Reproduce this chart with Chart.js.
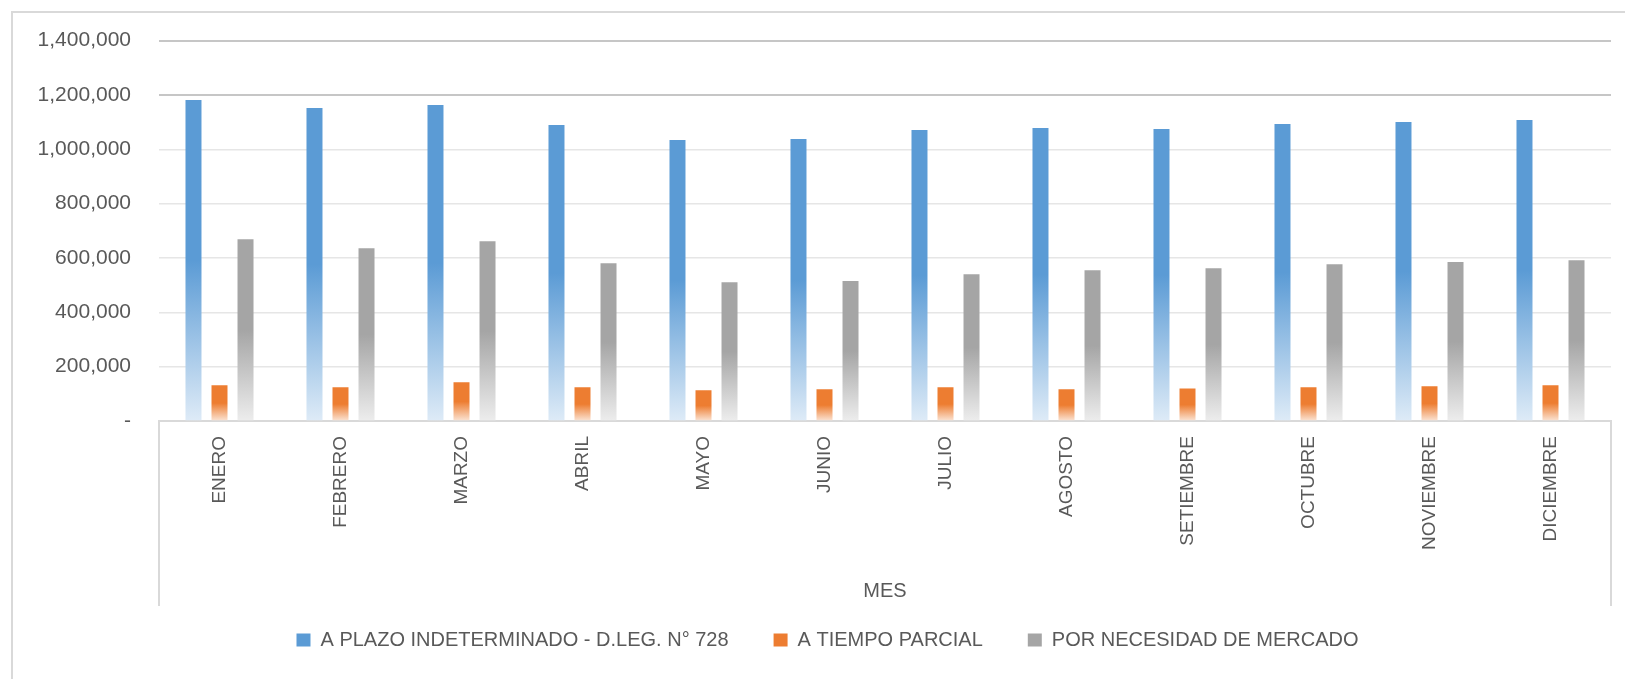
<!DOCTYPE html>
<html>
<head>
<meta charset="utf-8">
<script src="https://cdn.jsdelivr.net/npm/chart.js@4.4.1/dist/chart.umd.min.js"></script>
<style>
  html, body { margin: 0; padding: 0; background: #fff; }
  #wrap { width: 1625px; height: 679px; position: relative; }
</style>
</head>
<body>
<div id="wrap"><canvas id="mesChart"></canvas></div>
<script>
const months = ['ENERO', 'FEBRERO', 'MARZO', 'ABRIL', 'MAYO', 'JUNIO', 'JULIO', 'AGOSTO', 'SETIEMBRE', 'OCTUBRE', 'NOVIEMBRE', 'DICIEMBRE'];
const seriesNames = ['A PLAZO INDETERMINADO - D.LEG. N° 728', 'A TIEMPO PARCIAL', 'POR NECESIDAD DE MERCADO'];
const plazoIndeterminado = [1181000, 1152000, 1163000, 1089000, 1034000, 1038000, 1071000, 1078000, 1075000, 1093000, 1100000, 1108000];
const tiempoParcial = [131500, 124000, 142500, 124000, 113000, 117000, 124000, 117000, 120000, 124000, 128000, 131500];
const necesidadMercado = [669000, 636000, 662000, 581000, 511000, 515000, 540500, 555000, 562500, 577000, 585000, 592000];
const yTicks = [0, 200000, 400000, 600000, 800000, 1000000, 1200000, 1400000];

const FONT = "'Liberation Sans', Arial, sans-serif";
const TEXT = '#595959';

// solid on the upper half of each bar, fading out towards the base
function barFill(solid, light) {
  return function (c) {
    const chart = c.chart;
    const y = chart.scales && chart.scales.y;
    if (c.type !== 'data' || !y || !chart.chartArea) return solid;
    const top = y.getPixelForValue(c.raw);
    const base = y.getPixelForValue(0);
    if (!isFinite(top) || !isFinite(base) || base - top < 1) return solid;
    const g = chart.ctx.createLinearGradient(0, top, 0, base);
    g.addColorStop(0, solid);
    g.addColorStop(0.5, solid);
    g.addColorStop(1, light);
    return g;
  };
}

const solidColors = ['#5B9BD5', '#ED7D31', '#A5A5A5'];

const frame = {
  id: 'frame',
  afterLayout(chart) {
    // legend sits a little right of the canvas centre
    chart.legend.left += 44;
  },
  beforeDraw(chart) {
    const ctx = chart.ctx;
    const x = chart.scales.x;
    ctx.save();
    ctx.strokeStyle = '#D9D9D9';
    ctx.lineWidth = 2;
    ctx.strokeRect(12, 12, chart.width, chart.height);
    ctx.beginPath();
    ctx.moveTo(x.left, x.top);
    ctx.lineTo(x.left, x.bottom + 21);
    ctx.moveTo(x.right, x.top);
    ctx.lineTo(x.right, x.bottom + 21);
    ctx.stroke();
    ctx.restore();
  }
};

new Chart(document.getElementById('mesChart'), {
  type: 'bar',
  data: {
    labels: months,
    datasets: [
      { label: seriesNames[0], data: plazoIndeterminado, backgroundColor: barFill('#5B9BD5', '#DEEBF7') },
      { label: seriesNames[1], data: tiempoParcial, backgroundColor: barFill('#ED7D31', '#FBE5D6') },
      { label: seriesNames[2], data: necesidadMercado, backgroundColor: barFill('#A5A5A5', '#EDEDED') }
    ]
  },
  options: {
    responsive: true,
    maintainAspectRatio: false,
    animation: false,
    datasets: { bar: { categoryPercentage: 0.645, barPercentage: 0.615, borderWidth: 0 } },
    layout: { padding: { left: 0, right: 14, top: 40, bottom: 19 } },
    plugins: {
      tooltip: { enabled: false },
      legend: {
        position: 'bottom',
        labels: {
          boxWidth: 14,
          boxHeight: 13,
          padding: 45,
          color: TEXT,
          font: { family: FONT, size: 20 },
          generateLabels(chart) {
            return Chart.defaults.plugins.legend.labels.generateLabels(chart).map((item, i) => {
              item.fillStyle = solidColors[i];
              item.strokeStyle = solidColors[i];
              item.lineWidth = 0;
              return item;
            });
          }
        }
      }
    },
    scales: {
      x: {
        grid: { display: false, drawTicks: false },
        border: { display: true, color: '#D9D9D9', width: 2 },
        ticks: {
          color: TEXT,
          font: { family: FONT, size: 19 },
          minRotation: 90,
          maxRotation: 90,
          padding: 15,
          autoSkip: false
        },
        title: {
          display: true,
          text: 'MES',
          color: TEXT,
          font: { family: FONT, size: 20 },
          padding: { top: 4, bottom: -18 }
        },
        afterFit(scale) { scale.height = 164; }
      },
      y: {
        min: 0,
        max: 1400000,
        afterBuildTicks(scale) { scale.ticks = yTicks.map(v => ({ value: v })); },
        border: { display: false },
        grid: {
          drawTicks: false,
          color: c => (c.tick && c.tick.value >= 1200000 ? '#C6C6C6' : '#E6E6E6'),
          lineWidth: c => (c.tick && c.tick.value >= 1200000 ? 2 : 1.5)
        },
        ticks: {
          color: TEXT,
          font: { family: FONT, size: 21 },
          padding: 28,
          callback: v => (v === 0 ? '-' : v.toLocaleString('en-US'))
        },
        afterFit(scale) { scale.width = 159; }
      }
    }
  },
  plugins: [frame]
});
</script>
</body>
</html>
